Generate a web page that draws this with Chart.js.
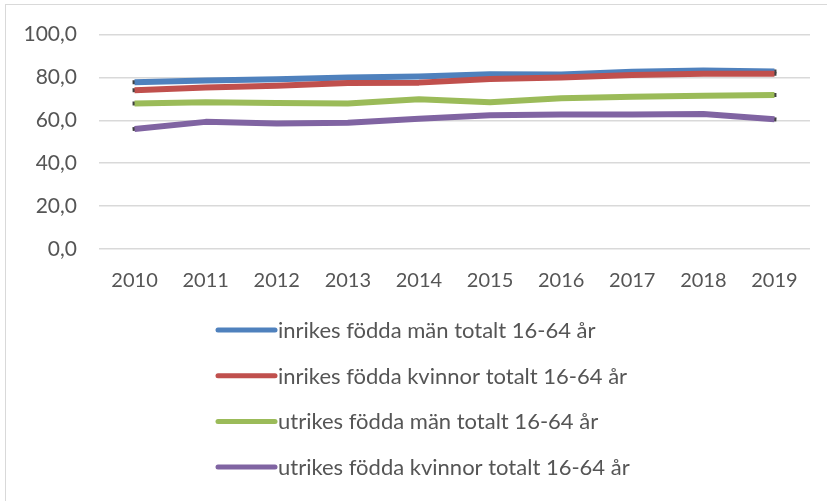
<!DOCTYPE html>
<html>
<head>
<meta charset="utf-8">
<script src="https://cdn.jsdelivr.net/npm/chart.js@4.4.1/dist/chart.umd.min.js"></script>
<style>
  html, body { margin: 0; padding: 0; background: #fff; overflow: hidden; }
  .frame { position: absolute; left: 5px; top: 4px; width: 900px; height: 600px; border: 1px solid #d9d9d9; }
  .wrap { position: absolute; left: 0; top: 0; width: 827px; height: 501px; }
</style>
</head>
<body>
<div class="frame"></div>
<div class="wrap"><canvas id="chart"></canvas></div>
<script>
const years = ['2010', '2011', '2012', '2013', '2014', '2015', '2016', '2017', '2018', '2019'];
const seriesNames = [
    'inrikes födda män totalt 16-64 år',
    'inrikes födda kvinnor totalt 16-64 år',
    'utrikes födda män totalt 16-64 år',
    'utrikes födda kvinnor totalt 16-64 år'
];
const inrikesMan = [77.8, 78.6, 79.2, 80.0, 80.4, 81.5, 81.4, 82.7, 83.2, 82.8];
const inrikesKvinnor = [74.1, 75.3, 76.1, 77.4, 77.6, 79.3, 80.0, 81.2, 81.7, 81.7];
const utrikesMan = [67.9, 68.4, 68.1, 67.9, 69.8, 68.5, 70.3, 71.0, 71.5, 71.8];
const utrikesKvinnor = [56.0, 59.3, 58.5, 58.9, 60.8, 62.4, 62.7, 62.7, 63.0, 60.5];
const yTicks = [0, 20, 40, 60, 80, 100];

const colors = ['#4F81BD', '#C0504D', '#9BBB59', '#8064A2'];
const values = [inrikesMan, inrikesKvinnor, utrikesMan, utrikesKvinnor];
const textColor = '#555555';
const fontFamily = 'Lato, "Noto Sans", sans-serif';

// each series gets a dark "shadow" copy underneath so the ends look like Excel's
const datasets = [];
values.forEach((v, i) => {
    const ord = (4 - i) * 2;
    datasets.push({ label: seriesNames[i], data: v, borderColor: colors[i], borderWidth: 6,
        borderCapStyle: 'butt', borderJoinStyle: 'round', pointRadius: 0, tension: 0, order: ord });
    datasets.push({ label: '_shadow', data: v, borderColor: '#404040', borderWidth: 4,
        borderCapStyle: 'square', borderJoinStyle: 'round', pointRadius: 0, tension: 0, order: ord + 1 });
});

// legend drawn one item per row, like the original
const stackedLegend = {
    id: 'stackedLegend',
    afterDraw(chart) {
        const ctx = chart.ctx;
        const items = chart.data.datasets.filter(d => d.label !== '_shadow');
        const x0 = 218, x1 = 275, top = 330, step = 45.7;
        ctx.save();
        ctx.font = '22px ' + fontFamily;
        ctx.textBaseline = 'middle';
        items.forEach((d, i) => {
            const y = top + i * step;
            ctx.strokeStyle = d.borderColor;
            ctx.lineWidth = 5;
            ctx.lineCap = 'round';
            ctx.beginPath();
            ctx.moveTo(x0, y);
            ctx.lineTo(x1, y);
            ctx.stroke();
            ctx.fillStyle = textColor;
            ctx.fillText(d.label, x1 + 3, y + 1);
        });
        ctx.restore();
    }
};

new Chart(document.getElementById('chart'), {
    type: 'line',
    data: { labels: years, datasets: datasets },
    options: {
        responsive: true,
        maintainAspectRatio: false,
        animation: false,
        layout: { padding: { left: 0, right: 17, top: 33, bottom: 200 } },
        plugins: { legend: { display: false }, tooltip: { enabled: false } },
        scales: {
            x: {
                offset: true,
                grid: { display: false, drawTicks: false },
                border: { display: false },
                ticks: { color: textColor, font: { family: fontFamily, size: 20 }, padding: 20, maxRotation: 0 },
                afterFit: s => { s.height = 52; }
            },
            y: {
                min: 0, max: 100,
                afterBuildTicks: s => { s.ticks = yTicks.map(v => ({ value: v })); },
                grid: { color: '#d9d9d9', lineWidth: 1.5, drawTicks: false },
                border: { display: false },
                ticks: {
                    color: textColor, font: { family: fontFamily, size: 21 }, padding: 22,
                    callback: v => v.toFixed(1).replace('.', ',')
                },
                afterFit: s => { s.width = 99; }
            }
        }
    },
    plugins: [stackedLegend]
});
</script>
</body>
</html>
